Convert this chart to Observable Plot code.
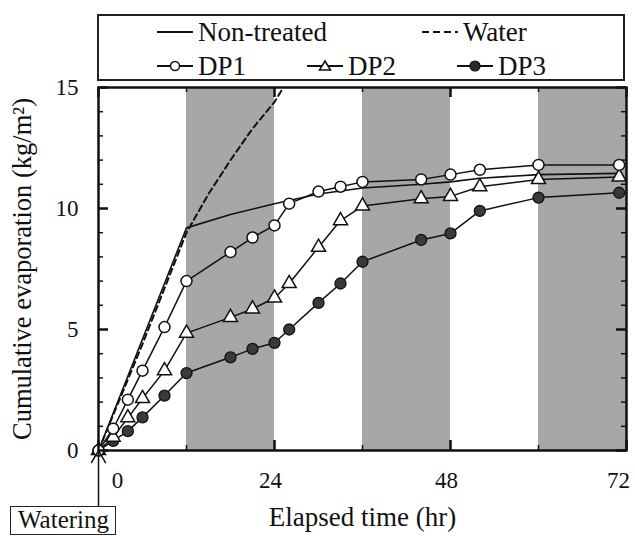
<!DOCTYPE html>
<html>
<head>
<meta charset="utf-8">
<script src="https://cdn.jsdelivr.net/npm/d3@7"></script>
<script src="https://cdn.jsdelivr.net/npm/@observablehq/plot@0.6"></script>
<style>
  body { margin: 0; background: #fff; }
  #wrap { position: relative; width: 635px; height: 536px; font-family: "Liberation Serif", "Times New Roman", Times, "DejaVu Serif", serif; color: #111; }
  #chart { position: absolute; left: 0; top: 0; }
  #legend { position: absolute; left: 97px; top: 14px; width: 524px; height: 63px; border: 2px solid #222; background: #fff; }
  .li { position: absolute; display: flex; align-items: center; font-size: 27px; line-height: 1; height: 28px; }
  .li svg { margin-right: 3px; }
  #watering { position: absolute; left: 10px; top: 506px; padding: 0px 6px 1px 7px; border: 1.5px solid #222; font-size: 25px; line-height: 1.05; background: #fff; }
</style>
</head>
<body>
<div id="wrap">
  <div id="chart"></div>
  <div id="legend"></div>
  <div id="watering">Watering</div>
</div>
<script>
// ---- data ----
const dpTimes = [0, 2, 4, 6, 9, 12, 18, 21, 24, 26, 30, 33, 36, 44, 48, 52, 60, 71];
const dp1Values = [0, 0.9, 2.1, 3.3, 5.1, 7.0, 8.2, 8.8, 9.3, 10.2, 10.7, 10.9, 11.1, 11.2, 11.4, 11.6, 11.8, 11.8];
const dp2Values = [0, 0.55, 1.35, 2.15, 3.3, 4.85, 5.5, 5.85, 6.3, 6.9, 8.4, 9.5, 10.1, 10.4, 10.5, 10.9, 11.2, 11.3];
const dp3Values = [0, 0.4, 0.8, 1.37, 2.27, 3.2, 3.85, 4.2, 4.45, 5.0, 6.1, 6.9, 7.8, 8.7, 8.97, 9.9, 10.45, 10.65];
const nonTreatedTimes = [0, 12, 18, 24, 30, 36, 44, 48, 52, 60, 71];
const nonTreatedValues = [0, 9.2, 9.75, 10.2, 10.6, 10.85, 11.0, 11.1, 11.25, 11.4, 11.45];
const waterTimes = [0, 6, 12, 15, 18, 21, 24, 25];
const waterValues = [0, 4.4, 9.0, 10.6, 12.0, 13.3, 14.4, 14.9];
const nightStarts = [12, 36, 60];
const nightEnds = [24, 48, 72];
const xTicksMajor = [0, 24, 48, 72];
const xTicksMinor = [12, 36, 60];
const yTicksMajor = [0, 5, 10, 15];
const yTicksMinor = [1, 2, 3, 4, 6, 7, 8, 9, 11, 12, 13, 14];
const wateringTime = [0];
const seriesNames = ["Non-treated", "Water", "DP1", "DP2", "DP3"];
const xLabel = "Elapsed time (hr)";
const yLabel = "Cumulative evaporation (kg/m²)";

// ---- tables ----
const zip = (ts, vs) => ts.map((t, i) => ({t, v: vs[i]}));
const dp1 = zip(dpTimes, dp1Values);
const dp2 = zip(dpTimes, dp2Values);
const dp3 = zip(dpTimes, dp3Values);
const nonTreated = zip(nonTreatedTimes, nonTreatedValues);
const water = zip(waterTimes, waterValues);
const nights = nightStarts.map((s, i) => ({start: s, end: nightEnds[i]}));

const W = 635, H = 536, ML = 98, MR = 9, MT = 87, MB = 86;
const iw = W - ML - MR, ih = H - MT - MB;
const ink = "#111";
const font = "'Liberation Serif', 'Times New Roman', Times, 'DejaVu Serif', serif";

const chart = Plot.plot({
  width: W, height: H,
  marginLeft: ML, marginRight: MR, marginTop: MT, marginBottom: MB,
  style: {fontFamily: font, fontSize: "23px", color: ink, background: "transparent", overflow: "visible"},
  x: {domain: [0, 72]},
  y: {domain: [0, 15]},
  marks: [
    Plot.rect(nights, {x1: "start", x2: "end", fill: "#a7a7a7"}),
    // inner ticks
    Plot.tickY(yTicksMinor, {y: d => d, stroke: ink, strokeWidth: 1.5, insetRight: iw - 5}),
    Plot.tickY(yTicksMajor, {y: d => d, stroke: ink, strokeWidth: 2.5, insetRight: iw - 10}),
    Plot.tickY(yTicksMinor, {y: d => d, stroke: ink, strokeWidth: 1.5, insetLeft: iw - 5}),
    Plot.tickY(yTicksMajor, {y: d => d, stroke: ink, strokeWidth: 2.5, insetLeft: iw - 10}),
    Plot.tickX(xTicksMinor, {x: d => d, stroke: ink, strokeWidth: 1.5, insetBottom: ih - 5}),
    Plot.tickX(xTicksMajor, {x: d => d, stroke: ink, strokeWidth: 2.5, insetBottom: ih - 10}),
    Plot.tickX(xTicksMinor, {x: d => d, stroke: ink, strokeWidth: 1.5, insetTop: ih - 5}),
    Plot.tickX(xTicksMajor, {x: d => d, stroke: ink, strokeWidth: 2.5, insetTop: ih - 10}),
    // series
    Plot.line(water, {x: "t", y: "v", stroke: ink, strokeWidth: 2, strokeDasharray: "6,4"}),
    Plot.line(nonTreated, {x: "t", y: "v", stroke: ink, strokeWidth: 1.6}),
    Plot.line(dp3, {x: "t", y: "v", stroke: ink, strokeWidth: 1.5}),
    Plot.line(dp2, {x: "t", y: "v", stroke: ink, strokeWidth: 1.5}),
    Plot.line(dp1, {x: "t", y: "v", stroke: ink, strokeWidth: 1.5}),
    Plot.dot(dp3, {x: "t", y: "v", r: 5.5, fill: "#3a3a3a", stroke: ink, strokeWidth: 1.3}),
    Plot.dot(dp2, {x: "t", y: "v", symbol: "triangle", r: 5.2, fill: "white", stroke: ink, strokeWidth: 1.5}),
    Plot.dot(dp1, {x: "t", y: "v", r: 5.5, fill: "white", stroke: ink, strokeWidth: 1.5}),
    Plot.frame({stroke: ink, strokeWidth: 2.5}),
    // axes
    Plot.axisY(yTicksMajor, {tickSize: 0, tickPadding: 20, label: null, fontSize: 23}),
    Plot.axisX([0], {tickSize: 0, tickPadding: 21, label: null, fontSize: 23, dx: 19}),
    Plot.axisX([24, 48], {tickSize: 0, tickPadding: 21, label: null, fontSize: 23, dx: -4}),
    Plot.axisX([72], {tickSize: 0, tickPadding: 21, label: null, fontSize: 23, dx: -8}),
    Plot.text([xLabel], {text: d => d, frameAnchor: "bottom", dy: 75, fontSize: 27, fill: ink}),
    Plot.text([yLabel], {text: d => d, frameAnchor: "left", textAnchor: "middle", rotate: -90, dx: -76, fontSize: 26.5, fill: ink}),
    // watering arrow
    Plot.arrow(wateringTime, {x1: d => d, x2: d => d, y1: -2.3, y2: 0, stroke: ink, strokeWidth: 1.5, headLength: 14, bend: 0})
  ]
});
document.getElementById("chart").appendChild(chart);

// ---- legend ----
function sym(kind) {
  const w = 40, h = 16, c = h / 2;
  let s = `<svg width="${w}" height="${h}" viewBox="0 0 ${w} ${h}">`;
  if (kind === "dash") {
    s += `<line x1="2" y1="${c}" x2="${w - 2}" y2="${c}" stroke="${ink}" stroke-width="2" stroke-dasharray="7,4"/>`;
  } else {
    s += `<line x1="2" y1="${c}" x2="${w - 2}" y2="${c}" stroke="${ink}" stroke-width="2"/>`;
  }
  if (kind === "circle") s += `<circle cx="${w / 2}" cy="${c}" r="4.5" fill="white" stroke="${ink}" stroke-width="1.5"/>`;
  if (kind === "fill") s += `<circle cx="${w / 2}" cy="${c}" r="5" fill="#2a2a2a" stroke="${ink}" stroke-width="1.2"/>`;
  if (kind === "tri") s += `<path d="M${w / 2},${c - 5} L${w / 2 + 5.5},${c + 4} L${w / 2 - 5.5},${c + 4} Z" fill="white" stroke="${ink}" stroke-width="1.5"/>`;
  return s + `</svg>`;
}
const legendItems = [
  {name: seriesNames[0], kind: "solid", left: 56, top: 2},
  {name: seriesNames[1], kind: "dash", left: 321, top: 2},
  {name: seriesNames[2], kind: "circle", left: 56, top: 36},
  {name: seriesNames[3], kind: "tri", left: 206, top: 36},
  {name: seriesNames[4], kind: "fill", left: 356, top: 36}
];
const legend = document.getElementById("legend");
for (const it of legendItems) {
  const d = document.createElement("div");
  d.className = "li";
  d.style.left = it.left + "px";
  d.style.top = it.top + "px";
  d.innerHTML = sym(it.kind) + `<span>${it.name}</span>`;
  legend.appendChild(d);
}
</script>
</body>
</html>
